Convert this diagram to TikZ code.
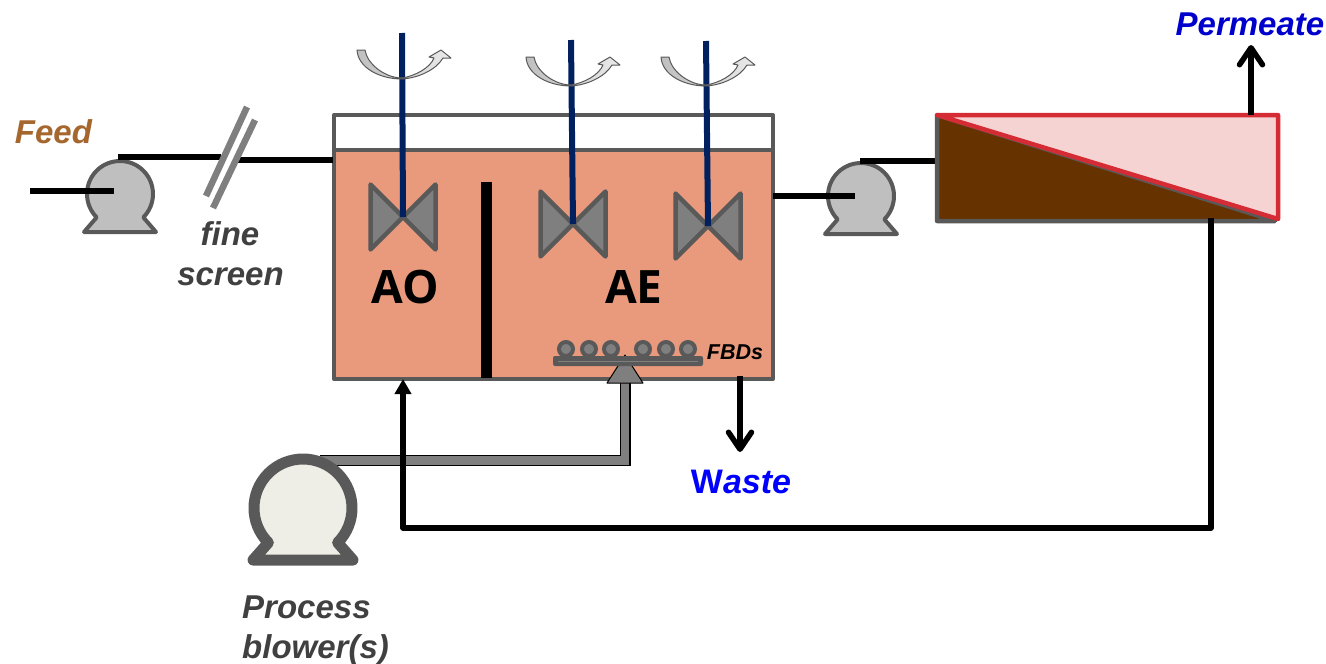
\documentclass[tikz,border=0pt]{standalone}
\usepackage{fontspec}
\setmainfont{Liberation Sans}
\newfontfamily\opensans{Open Sans}
\usetikzlibrary{arrows.meta,calc}
\definecolor{steel}{HTML}{595959}
\definecolor{midgray}{HTML}{7F7F7F}
\definecolor{pumpgray}{HTML}{BFBFBF}
\definecolor{water}{HTML}{E99A7C}
\definecolor{navyshaft}{HTML}{002060}
\definecolor{sludge}{HTML}{663300}
\definecolor{memred}{HTML}{D52B35}
\definecolor{mempink}{HTML}{F6D3D3}
\definecolor{feedbrown}{HTML}{A5672E}
\definecolor{labelgray}{HTML}{404040}
\definecolor{blowerfill}{HTML}{EEEEE6}
\newcommand{\pumpbody}[5]{%
  \path[#1] ($(#2)+(225:#3)$) arc[start angle=225,end angle=-45,radius=#3]
    -- ($(#2)+(#4,-#5)$) -- ($(#2)+(-#4,-#5)$) -- cycle;}
\newcommand{\mixer}[3]{%
  \coordinate (#1c) at (#2,-#3);
  \path[bowtie] ($(#1c)+(-32.5,32.5)$) -- ($(#1c)+(-32.5,-32.5)$) -- ($(#1c)+(32.5,32.5)$) -- ($(#1c)+(32.5,-32.5)$) -- cycle;}
\newcommand{\swirl}[2]{%
  \begin{scope}[shift={(#1,-#2)}]
  \path[swirlshape] (-45,28) -- (-37,28) .. controls (-35,14) and (-17,0) .. (0,0)
    .. controls (13,2) and (28,10) .. (32,20) -- (27,21) -- (39,28) -- (49,20) -- (41,20)
    .. controls (34,8) and (16,0) .. (0,-1) .. controls (-22,-1) and (-44,10) .. (-45,28) -- cycle;
  \end{scope}}
\tikzset{
  x=1pt,y=1pt,
  pipe/.style={draw=black,line width=5.5pt},
  pumpshape/.style={draw=steel,fill=pumpgray,line width=4pt,line join=round},
  blowershape/.style={draw=steel,fill=blowerfill,line width=11pt,line join=round},
  bowtie/.style={draw=steel,fill=midgray,line width=4.5pt,line join=round},
  shaft/.style={draw=navyshaft,line width=6pt},
  swirlshape/.style={draw=steel,line width=1pt,line join=round,left color=pumpgray,right color=white!92!black},
  barb/.style={-{Straight Barb[round,length=17pt,width=23pt]}},
  solidtip/.style={-{Triangle[length=15pt,width=16pt]}},
  lab/.style={inner sep=0pt,font=\fontsize{33}{40}\selectfont\bfseries\itshape},
  zone/.style={inner sep=0pt,font=\fontsize{46}{50}\selectfont\opensans\bfseries},
  disc/.style={circle,draw=steel,fill=midgray,line width=4pt,minimum size=14pt,inner sep=0pt},
}
\begin{document}
\begin{tikzpicture}
\useasboundingbox (0,0) rectangle (1326,-664);
% named points
\coordinate (feedin) at (30,-191);
\coordinate (feedpumpin) at (114,-191);
\coordinate (feedpumpout) at (118,-157);
\coordinate (screenL) at (221,-157);
\coordinate (screenR) at (237,-160);
\coordinate (tankin) at (333,-160);
\coordinate (tankout) at (773,-196);
\coordinate (p2in) at (855,-196);
\coordinate (p2out) at (860,-161);
\coordinate (memin) at (937,-161);
\coordinate (memtop) at (1251,-115);
\coordinate (permtip) at (1251,-45);
\coordinate (membot) at (1211,-218);
\coordinate (retcornerA) at (1211,-528);
\coordinate (retcornerB) at (403,-528);
\coordinate (rettip) at (403,-379);
\coordinate (wastetop) at (740,-376);
\coordinate (wastetip) at (740,-452);
\coordinate (airstart) at (320,-460.5);
\coordinate (aircorner) at (625,-460.5);
\coordinate (airend) at (625,-380);
% tank
\fill[white] (334,-115) rectangle (773,-150);
\fill[water] (334,-150) rectangle (773,-379);
\draw[steel,line width=4pt,line join=round] (334,-115) rectangle (773,-379);
\draw[steel,line width=4pt] (334,-150) -- (773,-150);
\node[fill=black,minimum width=11pt,minimum height=196pt,inner sep=0pt] (divider) at (486.5,-280) {};
% pipes to and from the pumps
\pumpbody{pumpshape}{120,-194}{33}{36}{38}
\pumpbody{pumpshape}{861,-196}{33}{36}{38}
\draw[pipe] (feedin) -- (feedpumpin);
\draw[pipe] (feedpumpout) -- (screenL);
\draw[pipe] (screenR) -- (tankin);
\draw[pipe] (tankout) -- (p2in);
\draw[pipe] (p2out) -- (memin);
% fine screen
\draw[midgray,line width=6.5pt] (247,-107) -- (206,-196);
\draw[midgray,line width=6.5pt] (255,-120) -- (213,-208);
% mixers
\mixer{m1}{403}{217}
\mixer{m2}{573}{224}
\mixer{m3}{708}{226}
\draw[shaft] (402,-33) -- (m1c);
\draw[shaft] (571,-40) -- (m2c);
\draw[shaft] (706,-41) -- (m3c);
\swirl{402}{78}
\swirl{571}{85}
\swirl{706}{85}
% air line
\draw[black,line width=11pt] (airstart) -- (aircorner) -- (airend);
\draw[midgray,line width=8.5pt] (airstart) -- (aircorner) -- (airend);
\path[draw=black,fill=midgray,line width=1pt,line join=round] (607,-383) -- (625,-355) -- (643,-383) -- cycle;
\pumpbody{blowershape}{303,-508}{49}{50}{52}
% diffuser
\node[fill=steel,rounded corners=2pt,minimum width=150pt,minimum height=10pt,inner sep=0pt] (bar) at (628,-361) {};
\draw[midgray,line width=1pt] (558,-361) -- (698,-361);
\foreach \n/\xx in {a/566,b/589,c/611,d/643,e/666,f/688}
  \node[disc] (disc\n) at (\xx,-349) {};
% membrane
\path[draw=steel,fill=sludge,line width=4.5pt,line join=round] (937,-115) -- (937,-221) -- (1275,-221) -- cycle;
\path[draw=memred,fill=mempink,line width=4.5pt,line join=round] (937,-115) -- (1278,-115) -- (1278,-219) -- cycle;
% flows
\draw[pipe,barb] (memtop) -- (permtip);
\draw[pipe,barb] (wastetop) -- (wastetip);
\draw[pipe,solidtip,line join=round] (membot) -- (retcornerA) -- (retcornerB) -- (rettip);
% labels
\node[lab,text=feedbrown] (feed) at (53.5,-132) {Feed};
\node[lab,text=labelgray,anchor=base] (fine) at (230,-245) {fine};
\node[lab,text=labelgray,anchor=base] (screen) at (230.5,-285) {screen};
\node[zone] (ao) at (405.5,-287) {AO};
\node[zone] (ae) at (634,-287) {AE};
\node[inner sep=0pt,font=\fontsize{21.5}{25}\selectfont\bfseries\itshape] (fbds) at (735,-352) {FBDs};
\node[lab,text=blue,font=\fontsize{34}{40}\selectfont\bfseries\itshape] (waste) at (741,-482) {\textup{W}aste};
\node[lab,text=blue!80!black] (permeate) at (1250,-24) {Permeate};
\node[lab,text=labelgray,anchor=base west] (process) at (242,-618) {Process};
\node[lab,text=labelgray,anchor=base west] (blower) at (242,-658) {blower(s)};
\end{tikzpicture}
\end{document}
